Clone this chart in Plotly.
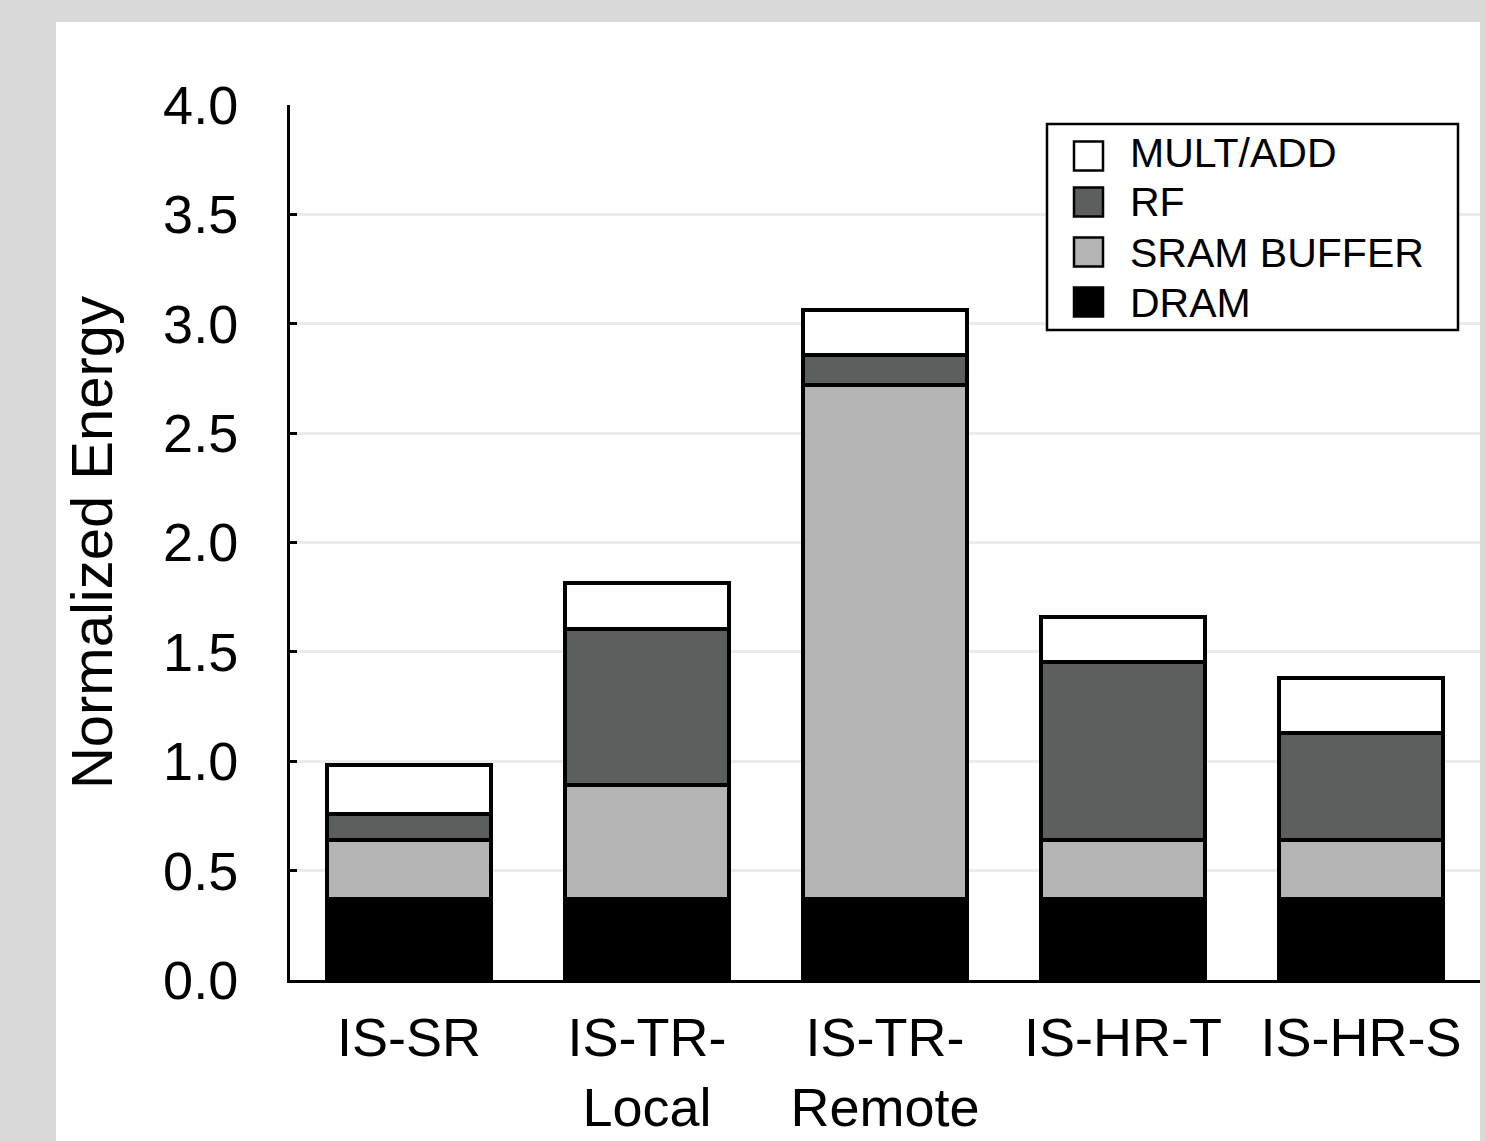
import plotly.graph_objects as go

categories = ["IS-SR", "IS-TR-<br>Local", "IS-TR-<br>Remote", "IS-HR-T", "IS-HR-S"]
dram = [0.37, 0.37, 0.37, 0.37, 0.37]
sram_buffer = [0.27, 0.52, 2.35, 0.27, 0.27]
rf = [0.12, 0.715, 0.135, 0.815, 0.49]
mult_add = [0.225, 0.21, 0.21, 0.205, 0.25]

series_names = ["DRAM", "SRAM BUFFER", "RF", "MULT/ADD"]
series_values = [dram, sram_buffer, rf, mult_add]
series_colors = ["#000000", "#b4b4b4", "#5b5f5e", "#ffffff"]

y_ticks = [0.0, 0.5, 1.0, 1.5, 2.0, 2.5, 3.0, 3.5, 4.0]
y_tick_text = ["0.0", "0.5", "1.0", "1.5", "2.0", "2.5", "3.0", "3.5", "4.0"]

FONT = "Liberation Sans, Arial, Helvetica, sans-serif"
W, H = 1485, 1141
L, R, T, B = 290, 1480, 105, 980


def px2x(p):
    return (p - L) / (R - L)


def px2y(p):
    return (B - p) / (B - T)


fig = go.Figure()
for name, vals, col in zip(series_names, series_values, series_colors):
    fig.add_trace(go.Bar(
        x=categories, y=vals, name=name, width=0.69,
        marker=dict(color=col, line=dict(color="black", width=4)),
        showlegend=False,
    ))

shapes = [
    dict(type="rect", xref="paper", yref="paper", layer="below",
         x0=px2x(56), x1=px2x(1480), y0=px2y(1141), y1=px2y(22),
         fillcolor="white", line=dict(width=0)),
    # legend box
    dict(type="rect", xref="paper", yref="paper",
         x0=px2x(1047), x1=px2x(1458), y0=px2y(330), y1=px2y(124),
         fillcolor="white", line=dict(color="black", width=2.5)),
]
annotations = []
legend_order = ["MULT/ADD", "RF", "SRAM BUFFER", "DRAM"]
swatch_centers = [156, 202, 252, 302]
text_centers = [153, 202, 252.5, 302.5]
for name, sc, tc in zip(legend_order, swatch_centers, text_centers):
    col = series_colors[series_names.index(name)]
    shapes.append(dict(type="rect", xref="paper", yref="paper",
                       x0=px2x(1074), x1=px2x(1103), y0=px2y(sc + 14.5), y1=px2y(sc - 14.5),
                       fillcolor=col, line=dict(color="black", width=2.5)))
    annotations.append(dict(xref="paper", yref="paper", x=px2x(1128), y=px2y(tc),
                            xanchor="left", yanchor="middle", showarrow=False,
                            text=name, font=dict(family=FONT, size=41, color="black")))

fig.update_layout(
    barmode="stack",
    width=W, height=H,
    margin=dict(l=L, r=W - R, t=T, b=H - B, pad=0),
    paper_bgcolor="#d9d9d9",
    plot_bgcolor="white",
    font=dict(family=FONT, color="black"),
    bargap=0.31,
    shapes=shapes,
    annotations=annotations,
    xaxis=dict(
        range=[-0.5, 4.5], automargin=False,
        showgrid=False, ticks="", zeroline=False,
        showline=True, linecolor="black", linewidth=3,
        tickfont=dict(family=FONT, size=54, color="black"),
        ticklabelstandoff=8,
    ),
    yaxis=dict(
        range=[0, 4], tickvals=y_ticks, ticktext=y_tick_text, automargin=False,
        showgrid=True, gridcolor="#ebebeb", gridwidth=3,
        zeroline=False,
        showline=True, linecolor="black", linewidth=3,
        ticks="inside", ticklen=7, tickwidth=3, tickcolor="black",
        tickfont=dict(family=FONT, size=54, color="black"),
        ticklabelstandoff=38,
        title=dict(text="Normalized Energy", standoff=32,
                   font=dict(family=FONT, size=58, color="black")),
    ),
)

fig.write_html("out.html", config={"displayModeBar": False},
               post_script="document.body.style.margin='0';document.body.style.overflow='hidden';")
